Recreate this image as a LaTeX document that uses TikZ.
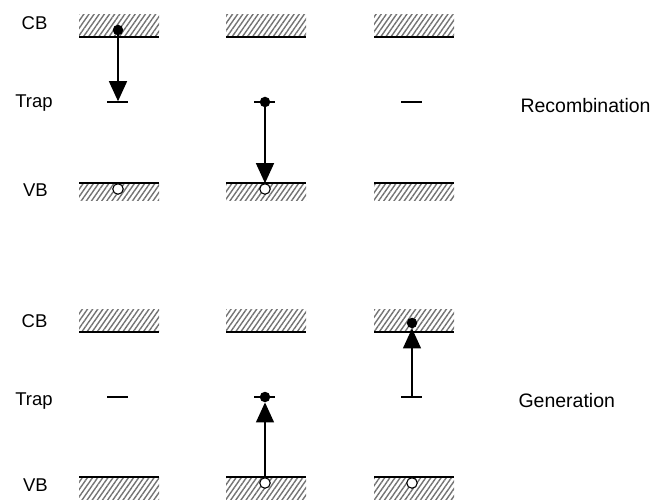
\documentclass[tikz,border=0pt]{standalone}
\usepackage{fontspec}
\setmainfont{Liberation Sans}
\usetikzlibrary{patterns.meta,arrows.meta}
\begin{document}
\begin{tikzpicture}[x=1pt,y=-1pt,
  hatch/.style={pattern={Lines[angle=55,distance=4.2pt,line width=1.4pt]},pattern color=black!55},
  edge/.style={line width=1.8pt},
  trap/.style={fill=black,minimum width=21pt,minimum height=1.5pt,inner sep=0pt,outer sep=0pt},
  elec/.style={circle,fill=black,inner sep=0pt,minimum size=10.5pt},
  hole/.style={circle,draw=black,fill=white,line width=1.1pt,inner sep=0pt,minimum size=10.5pt},
  jump/.style={line width=1.3pt,-{Triangle[width=18pt,length=20pt]}},
  lbl/.style={font=\fontsize{18.5}{20}\selectfont,anchor=base},
  proc/.style={font=\fontsize{19.5}{22}\selectfont,anchor=base west}]
\useasboundingbox (0,0) rectangle (657,500);

% labels
\node[lbl] (cbA) at (34.5,30) {CB};
\node[lbl] (trA) at (34,108) {Trap};
\node[lbl] (vbA) at (35.5,197) {VB};
\node[lbl] (cbB) at (34.5,327) {CB};
\node[lbl] (trB) at (34,405) {Trap};
\node[lbl] (vbB) at (35.5,491) {VB};
\node[proc] (rec) at (517,113) {Recombination};
\node[proc] (gen) at (515,407) {Generation};

% bands, top row
\foreach \x in {79,226,374}{
  \fill[hatch] (\x,15) rectangle ++(80,22);
  \draw[edge] (\x,37) -- ++(80,0);
  \fill[hatch] (\x,183) rectangle ++(80,18);
  \draw[edge] (\x,183) -- ++(80,0);
}
% bands, bottom row
\foreach \x in {79,226,374}{
  \fill[hatch] (\x,310) rectangle ++(80,22);
  \draw[edge] (\x,332) -- ++(80,0);
  \fill[hatch] (\x,477) rectangle ++(80,23);
  \draw[edge] (\x,477) -- ++(80,0);
}

% trap levels
\node[trap] (tA1) at (117,102) {};
\node[trap] (tA2) at (264,102) {};
\node[trap] (tA3) at (411,102) {};
\node[trap] (tB1) at (117,397) {};
\node[trap] (tB2) at (264,397) {};
\node[trap] (tB3) at (411,397) {};

% carriers, top row
\node[elec] (eA1) at (118,30) {};
\node[hole] (hA1) at (118,189) {};
\node[elec] (eA2) at (265,102) {};
\node[hole] (hA2) at (265,189) {};

% carriers, bottom row
\node[hole] (hB2) at (265,483) {};
\node[elec] (eB2) at (265,397) {};
\node[elec] (eB3) at (412,323) {};
\node[hole] (hB3) at (412,483) {};

% transitions
\draw[jump] (eA1) -- (tA1.north -| eA1);
\draw[jump] (eA2) -- (hA2);
\draw[jump] (hB2) -- (eB2);
\draw[jump] (tB3.north -| eB3) -- (eB3);
\end{tikzpicture}
\end{document}
